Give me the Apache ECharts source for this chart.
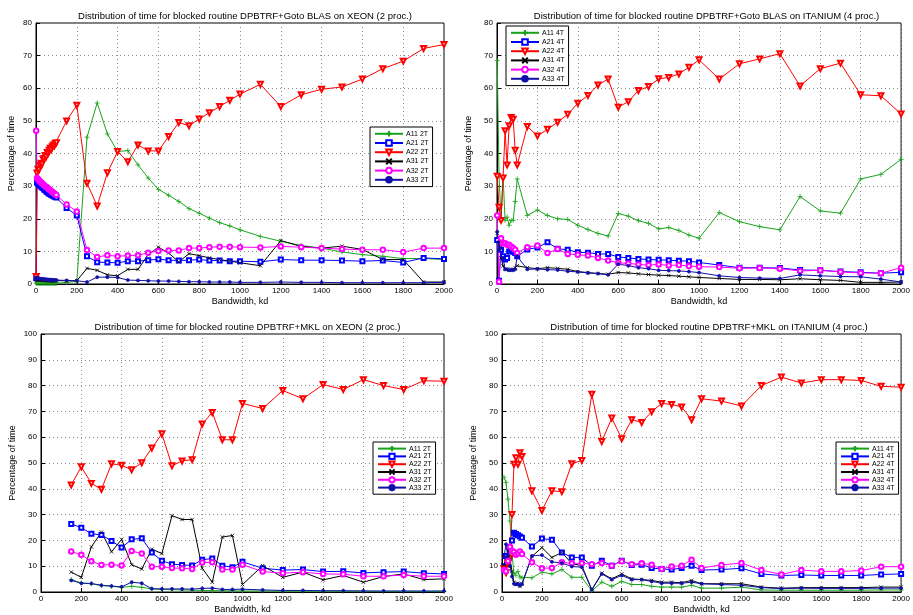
<!DOCTYPE html>
<html><head><meta charset="utf-8">
<script src="https://cdn.jsdelivr.net/npm/echarts@6/dist/echarts.min.js"></script>
<style>html,body{margin:0;padding:0;background:#fff}#c{width:913px;height:615px}</style>
</head><body><div id="c"></div>
<script>
// ---------- x positions ----------
const xTL = [1,5,10,15,20,25,30,35,40,45,50,55,60,65,70,75,80,85,90,95,100,150,200,250,300,350,400,450,500,550,600,650,700,750,800,850,900,950,1000,1100,1200,1300,1400,1500,1600,1700,1800,1900,2000];
const xTR = [1,10,20,30,40,50,60,70,80,90,100,150,200,250,300,350,400,450,500,550,600,650,700,750,800,850,900,950,1000,1100,1200,1300,1400,1500,1600,1700,1800,1900,2000];
const xBL = [150,200,250,300,350,400,450,500,550,600,650,700,750,800,850,900,950,1000,1100,1200,1300,1400,1500,1600,1700,1800,1900,2000];
const xBR = [10,20,30,40,50,60,70,80,90,100,150,200,250,300,350,400,450,500,550,600,650,700,750,800,850,900,950,1000,1100,1200,1300,1400,1500,1600,1700,1800,1900,2000];

// ---------- Goto BLAS, XEON, 2T ----------
const tlA11 = [0.3,0.2,0.2,0.2,0.2,0.2,0.2,0.2,0.2,0.2,0.2,0.2,0.2,0.2,0.2,0.2,0.2,0.2,0.2,0.2,0.2, 0.5,0.8,45,55.5,46,40.6,40.9,36.5,32.5,29,27.2,25.3,23.1,21.7,20.2,18.8,17.8,16.6, 14.6,13.1,11.8,11,9.8,9,8.5,7.8,7.8,7.5];
const tlA21 = [1.8,31,30.8,30.4,30.2,29.9,29.6,29.4,29,28.8,28.4,28.2,28,27.7,27.6,27.3,27.2,27,26.8,26.7,26.5, 23.3,21,8.5,6.7,6.6,6.5,7,7,7.3,7.6,7.3,7.2,7.3,7.5,7.2,7.2,7,7, 6.8,7.5,7.3,7.3,7.2,7,7.2,6.6,8,7.7];
const tlA22 = [2.3,34,35.2,35,36.4,37,36.8,38.2,38.5,39.4,39,40.3,40.1,41,41.6,41.2,42.1,42.6,42.4,43.1,43.3, 50,54.8,30.9,23.9,34.1,40.6,37.5,42.6,40.8,40.8,45.2,49.5,48.5,50.6,52.5,54.4,56.3,58.2, 61.2,54.4,58,59.7,60.4,62.8,66,68.3,72.2,73.4];
const tlA31 = [1.5,1.3,1.3,1.2,1.2,1.2,1.2,1.1,1.1,1.1,1.1,1.1,1,1,1,1,1,1,1,1,1, 1,1,4.8,4.2,2.8,2.5,4.5,4.5,9,11.3,9.5,6.8,9.3,8.7,8,7.5,7,6.5, 5.6,13.3,11.5,11,11.6,10.6,7.5,7.5,0.6,0.6];
const tlA32 = [47,32.5,32.1,31.7,31.5,31.1,30.9,30.5,30.3,30,29.7,29.6,29.2,29,28.7,28.5,28.2,28,27.7,27.5,27.3, 24.4,22.2,10.4,8.3,8.8,8.5,8.7,8.8,9.6,10.1,10.3,10.3,11,11,11.3,11.4,11.4,11.3, 11.2,11.5,11.3,11,10.7,10.5,10.5,9.8,11,11];
const tlA33 = [2,1.8,1.7,1.7,1.6,1.6,1.5,1.5,1.5,1.4,1.4,1.4,1.3,1.3,1.3,1.3,1.2,1.2,1.2,1.2,1.2, 1.1,1,0.6,2.1,2.1,2,1.2,1.1,1,0.9,0.9,0.8,0.7,0.7,0.6,0.6,0.6,0.5, 0.5,0.6,0.5,0.5,0.4,0.4,0.4,0.4,0.4,0.5];

// ---------- Goto BLAS, ITANIUM, 4T ----------
const trA11 = [68.5,33,20,33,19.5,20.5,18,19.5,19.5,25.3,32.2, 21,22.7,21,20,19.8,18,16.7,15.5,14.7,21.6,20.8,19.4,18.6,16.9,17.3,16.4,15,14, 21.9,19.1,17.6,16.6,26.8,22.4,21.7,32.2,33.6,38.2];
const trA21 = [13.5,1,10.5,8.5,7.5,8,10,10.5,10,9.5,8.5, 10.6,11.2,12.8,10.8,10.5,9.7,9.6,9.2,9.2,8.3,8,7.7,7.5,7.4,7.3,7.1,7,6.6, 5.8,5,5,4.9,4.3,4.2,3.8,3.6,3.3,3.6];
const trA22 = [33,23.5,19.5,32.5,47,36.5,48.5,51,50.5,41,36.5, 48.3,45.4,47.4,49.6,52,55.4,57.8,61,62.8,54.2,55.9,59.3,60.5,62.9,63.3,64.4,66.4,68.7, 62.8,67.5,69,70.6,60.7,66,67.7,58,57.7,52.1];
const trA31 = [15.5,13,8,5.5,4.5,4.5,4.2,4.5,4.5,5,5.6, 5,4.7,5,4.8,4.5,3.8,3.5,3.2,3,3.5,3.4,3.1,2.9,2.7,2.6,2.4,2.2,2, 1.7,1.4,1.4,1.3,1.6,1.3,1.1,0.5,0.5,0.6];
const trA32 = [21,0.7,14,12.5,12.5,12,12,11.5,11,10.5,9.5, 11.3,11.8,9.5,10.7,9.2,9,8.7,8,7.2,6.5,6.3,6,5.8,6,5.7,5.8,5.5,5.3, 5.2,4.8,4.9,4.7,4,4.2,3.7,3.4,3.3,5];
const trA33 = [16,10.5,11,8,4.5,4.5,4.2,4.3,4.2,4.5,8.5, 4.5,4.6,4.4,4.3,3.9,3.7,3.4,3.2,2.8,6.1,5.6,5,4.7,4.2,4.1,4,3.8,3.5, 2.5,2,1.8,1.7,2.8,2.5,2.3,2.2,1.5,0.6];

// ---------- MKL, XEON, 2T ----------
const blA11 = [4.8,3.5,3.2,2.5,2.2,1.8,2.2,1.8,1.2,1,0.9,0.8,0.7,0.6,0.5,0.5,0.5,0.4,0.4,0.3,0.3,0.3,0.3,0.3,0.2,0.2,0.2,0.2];
const blA21 = [26.4,24.9,22.6,22.1,19.8,17.2,20.4,20.8,15.3,12.1,10.8,10.5,10.3,12.5,13,10.2,9.6,11.7,9.2,8.5,8.7,7.9,8,7.4,7.7,7.9,7.3,7];
const blA22 = [41.5,48.5,42.1,39.8,49.7,49.1,47.4,50.1,55.8,61.3,48.9,50.8,51.3,65.1,69.6,59,59,73.1,71.1,78.1,74.9,80.4,78.5,82.3,80,78.5,81.9,81.7];
const blA31 = [7.7,5.7,17.5,23.2,15.6,20.4,10.6,8.9,16.6,14.9,29.6,28.1,28.1,9.2,3.8,21.3,21.9,2.9,10.2,5.7,7.7,4.7,6.4,3.8,6,7,4.8,5.1];
const blA32 = [15.7,14.4,11.9,10.5,10.6,10.3,15.9,14.9,9.8,9.8,9.3,9.2,8.9,11.4,11.5,8.7,8.7,10.6,7.9,7.3,7.7,7,6.9,6.1,6.1,6.6,6.1,6.1];
const blA33 = [4.5,3.4,3.3,2.6,2.3,2,3.8,3.4,1.3,1.2,1.2,1.2,1.1,1.4,1.5,1,1,1.1,0.8,0.6,0.6,0.5,0.5,0.4,0.4,0.4,0.4,0.4];

// ---------- MKL, ITANIUM, 4T ----------
const brA11 = [44.5,42.5,36,27.5,15,7,6.5,8,5.8,5.5, 5.5,7.7,7,8.7,5.7,5.7,0.4,3.8,2.2,4.1,2.9,2.9,2.2,1.9,1.9,1.9,2.6,1.5, 1.5,1.9,0.8,0.7,0.7,0.7,0.7,0.7,0.8,0.8];
const brA21 = [10,14,13,17,20,23,22.5,22,21.5,21, 17.6,20.7,20.3,15.3,13.4,13.4,10.2,12.1,10.2,12.1,10.5,10.6,9.3,8.9,8.7,9.3,10.2,8.5, 8.7,9.2,7,6.4,6.6,6.4,6.4,6.4,6.8,7];
const brA22 = [9,7.5,11,13,30,49.5,52,49.5,54,52.5, 39.2,31.6,39.2,38.9,49.7,51,76.6,58.3,67.4,59.4,66.8,65.7,69.9,73.1,72.7,71.7,66.8,74.9, 74,72.1,80,83.3,81,82.3,82.3,82,79.7,79.4];
const brA31 = [10.5,12,16,13,8,3.8,2.9,3.4,2.2,3.2, 13.8,17.2,13.4,15.3,11,10.2,0.9,7.3,5.1,7,5.1,4.8,4.5,3.8,3.8,3.6,4.5,3.2, 3.2,3.2,1.9,1.5,1.7,1.7,1.7,1.7,1.9,1.9];
const brA32 = [8.5,8,12,17.5,16,15.5,14.4,15,15.7,14.7, 11.5,9.2,9.3,11.5,11.1,11.1,10.8,11.2,10.2,11.9,10.8,11.1,10.6,8.9,9.9,10.2,12.5,9.3, 10.5,11.2,8.5,6.8,8.5,8,8,8.3,9.8,9.8];
const brA33 = [13.5,18.5,14,10,6,3.2,3,3.2,2.5,3, 14,14.3,11.7,11.2,9.9,9.6,0.9,7,4.8,6.4,4.8,4.8,4.1,3.4,3.4,3.4,3.8,3.2, 2.9,2.6,1.7,1.3,1.5,1.4,1.4,1.4,1.5,1.5];

const names2T = ['A11 2T','A21 2T','A22 2T','A31 2T','A32 2T','A33 2T'];
const names4T = ['A11 4T','A21 4T','A22 4T','A31 4T','A32 4T','A33 4T'];
const titles = [
  'Distribution of time for blocked routine DPBTRF+Goto BLAS on XEON (2 proc.)',
  'Distribution of time for blocked routine DPBTRF+Goto BLAS on ITANIUM (4 proc.)',
  'Distribution of time for blocked routine DPBTRF+MKL on XEON (2 proc.)',
  'Distribution of time for blocked routine DPBTRF+MKL on ITANIUM (4 proc.)'
];

// ---------- styles ----------
const FONT = 'Liberation Sans';
const PLUS = 'path://M5,0L5,10M0,5L10,5';
const CROSS = 'path://M0,0L10,10M10,0L0,10';
const styles = [
  {color:'#1aa31a', symbol:PLUS, size:5, fill:'#1aa31a'},
  {color:'#0000ff', symbol:'emptyRect', size:4},
  {color:'#ff0000', symbol:'emptyTriangle', size:5, rotate:180},
  {color:'#000000', symbol:CROSS, size:3.5, fill:'#000'},
  {color:'#ff00ff', symbol:'emptyCircle', size:4.5},
  {color:'#1010a8', symbol:'circle', size:3}
];

const grids = [
  {left:36, top:23, width:408, height:261},
  {left:497, top:23, width:409, height:261},
  {left:41, top:334, width:403, height:261},
  {left:502, top:334, width:404, height:261}
];
const yMax = [80,80,100,100];

const panels = [
  {xs:xTL, ys:[tlA11,tlA21,tlA22,tlA31,tlA32,tlA33], names:names2T},
  {xs:xTR, ys:[trA11,trA21,trA22,trA31,trA32,trA33], names:names4T},
  {xs:xBL, ys:[blA11,blA21,blA22,blA31,blA32,blA33], names:names2T},
  {xs:xBR, ys:[brA11,brA21,brA22,brA31,brA32,brA33], names:names4T}
];

const series = [];
panels.forEach((p, gi) => {
  p.ys.forEach((vals, si) => {
    const st = styles[si];
    series.push({
      type:'line', name:p.names[si], xAxisIndex:gi, yAxisIndex:gi,
      data:p.xs.map((x,i)=>[x, vals[i]]),
      symbol:st.symbol, symbolSize:st.size, symbolRotate:st.rotate||0,
      showAllSymbol:true, animation:false,
      lineStyle:{color:st.color, width:1},
      itemStyle:{color:st.fill||st.color, borderColor:st.color, borderWidth:0.8},
      emphasis:{disabled:true}
    });
  });
});

const fmt = v => String(v);
const xAxes = grids.map((g,i)=>({
  type:'value', gridIndex:i, min:0, max:2000, interval:200,
  name:'Bandwidth, kd', nameLocation:'middle', nameGap:13,
  nameTextStyle:{fontFamily:FONT, fontSize:9, color:'#000'},
  axisLine:{lineStyle:{color:'#000', width:1}},
  axisTick:{inside:true, length:4, lineStyle:{color:'#000'}},
  axisLabel:{fontFamily:FONT, fontSize:8, color:'#000', margin:3, formatter:fmt},
  splitLine:{show:true, lineStyle:{color:'#8c8c8c', type:[1,3], width:1}}
}));
const yAxes = grids.map((g,i)=>({
  type:'value', gridIndex:i, min:0, max:yMax[i], interval:10,
  name:'Percentage of time', nameLocation:'middle', nameGap:i===0?20:24, nameRotate:90,
  nameTextStyle:{fontFamily:FONT, fontSize:9, color:'#000'},
  axisLine:{show:true, lineStyle:{color:'#000', width:1}},
  axisTick:{show:true, inside:true, length:4, lineStyle:{color:'#000'}},
  axisLabel:{fontFamily:FONT, fontSize:8, color:'#000', margin:4, formatter:fmt},
  splitLine:{show:true, lineStyle:{color:'#8c8c8c', type:[1,3], width:1}}
}));

const titleComps = grids.map((g,i)=>({
  text:titles[i], left:g.left + g.width/2, top:g.top-17, textAlign:'center',
  textStyle:{fontFamily:FONT, fontSize:9.5, fontWeight:'normal', color:'#000'}
}));

const legendPos = [
  {left:370, top:127},
  {left:506, top:26},
  {left:373, top:442},
  {left:836, top:442}
];
const legends = legendPos.map((lp,i)=>({
  data:panels[i].names, orient:'vertical', left:lp.left, top:lp.top,
  backgroundColor:'#fff', borderColor:'#000', borderWidth:1,
  padding:[3,4,3,4], itemGap: i<2 ? 1.6 : 0.6, itemWidth:28, itemHeight:i<2?7:6.5,
  selectedMode:false,
  textStyle:{fontFamily:FONT, fontSize:7, color:'#000', padding:[0,0,0,-2]}
}));

const chart = echarts.init(document.getElementById('c'), null, {renderer:'canvas'});
chart.setOption({
  backgroundColor:'#fff',
  animation:false,
  title:titleComps,
  legend:legends,
  grid:grids.map(g=>Object.assign({show:true, borderColor:'#000', borderWidth:1, backgroundColor:'rgba(0,0,0,0)'}, g)),
  xAxis:xAxes,
  yAxis:yAxes,
  series:series
});
</script></body></html>
